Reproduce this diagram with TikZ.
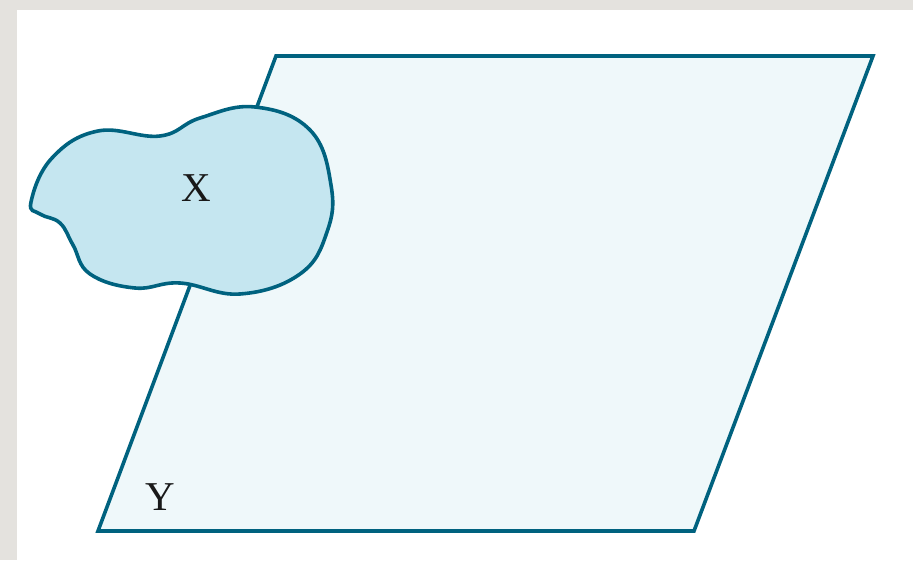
\documentclass[tikz,border=0pt]{standalone}
\usepackage{fontspec}
\setmainfont{Liberation Serif}
\usetikzlibrary{calc}
\definecolor{edge}{HTML}{00627F}
\definecolor{plane}{HTML}{EFF8FA}
\definecolor{blobfill}{HTML}{C5E6F0}
\definecolor{frame}{HTML}{E4E2DE}
\tikzset{
  setline/.style={draw=edge,line width=3.6pt,line join=miter},
  planeset/.style={setline,fill=plane},
  blobset/.style={setline,fill=blobfill},
  setlabel/.style={font=\fontsize{41}{41}\selectfont,text=black!90,inner sep=0pt},
}
\begin{document}
\begin{tikzpicture}[x=1pt,y=-1pt]
  % page frame
  \fill[frame] (0,0) rectangle (913,560);
  \fill[white] (17,10) rectangle (913,561);

  % set Y: the plane
  \draw[planeset] (276,56) -- (873,56) -- (694,531) -- (98,531) -- cycle;

  % set X: the blob
  \draw[blobset] plot[smooth cycle,tension=0.7] coordinates {
    (31,202) (40,214) (60,223) (73,245) (90,274) (135,288) (180,283)
    (240,294) (300,274) (327,232) (331,185) (310,130)
    (255,107) (200,118) (160,136) (98,131) (52,158)};

  \node[setlabel] (x) at (196,188) {X};
  \node[setlabel] (y) at (160,497) {Y};
\end{tikzpicture}
\end{document}
